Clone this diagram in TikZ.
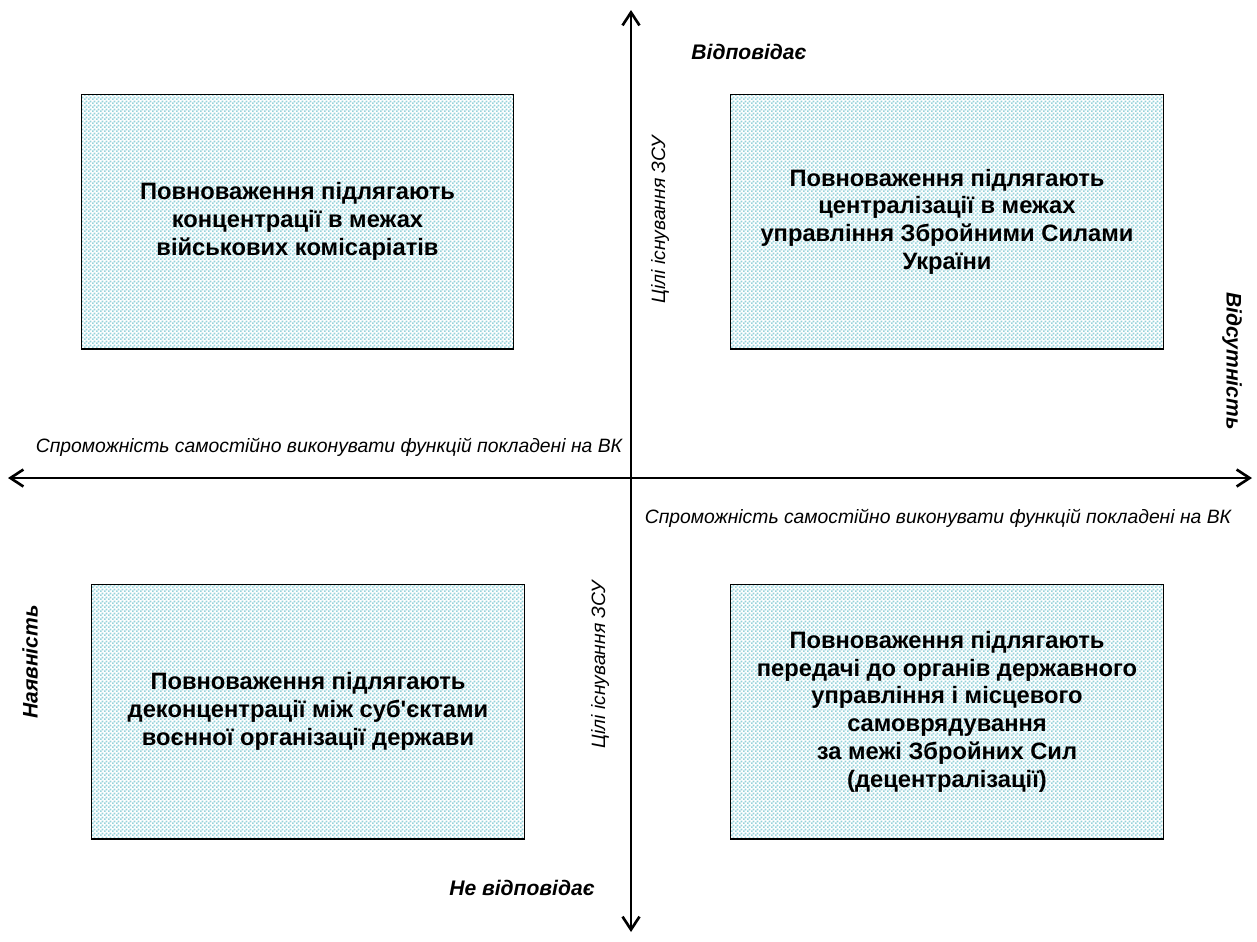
\documentclass[tikz,border=0pt]{standalone}
\usepackage{fontspec}
\setmainfont{Liberation Sans}[Ligatures=TeXOff]
\usetikzlibrary{arrows.meta,patterns.meta}
\usepackage{xcolor}
\definecolor{chk}{RGB}{150,210,218}

\tikzdeclarepattern{
  name=finechecks,
  type=uncolored,
  bottom left={(0pt,0pt)},
  top right={(2.3pt,2.3pt)},
  tile size={(2.3pt,2.3pt)},
  code={
    \fill (0pt,0pt) rectangle (1.15pt,1.15pt);
    \fill (1.15pt,1.15pt) rectangle (2.3pt,2.3pt);
  }
}

\begin{document}
\begin{tikzpicture}[x=0.02cm,y=-0.02cm]
	\tikzset{
		quad/.style={%
           	draw,
	         line width=0.6pt,
              pattern=finechecks,
              pattern color=chk,
             minimum width=8.66cm,
             minimum height=5.1cm,
             align=center,
             font=\bfseries\fontsize{13.5}{15.8}\selectfont},
		note/.style={font=\itshape\fontsize{11}{13}\selectfont},
		pole/.style={font=\bfseries\itshape\fontsize{12}{14}\selectfont}
       }


       \tikzstyle{axis_style} = [draw=black, line width=1.5pt, {Straight Barb[length=2.6mm,width=3.4mm]}-{Straight Barb[length=2.6mm,width=3.4mm]}]

	  \useasboundingbox (0,0) rectangle (1257,941);

	  \coordinate (top) at (631,10);
	  \coordinate (bottom) at (631,932);
	  \coordinate (left) at (8,478);
	  \coordinate (right) at (1252,478);

	  \node[quad] (tl) at (297.5,221.5) {Повноваження підлягають\\концентрації в межах\\військових комісаріатів};
	  \node[quad] (tr) at (947,221.5) {Повноваження підлягають\\централізації в межах\\управління Збройними Силами\\України};
	  \node[quad] (bl) at (308,711.5) {Повноваження підлягають\\деконцентрації між суб'єктами\\воєнної організації держави};
	  \node[quad] (br) at (947,711.5) {Повноваження підлягають\\передачі до органів державного\\управління і місцевого\\самоврядування\\за межі Збройних Сил\\(децентралізації)};

	  \draw[axis_style]  (bottom) -- (top);
	  \draw[axis_style]  (left) -- (right);

	  \node[pole] (yes) at (749,52) {Відповідає};
	  \node[pole] (no) at (522,888) {Не відповідає};
	  \node[pole, rotate=-90] (absent) at (1232,361) {Відсутність};
	  \node[pole, rotate=90] (present) at (30,662) {Наявність};

	  \node[note] (capl) at (329,447) {Спроможність самостійно виконувати функцій покладені на ВК};
	  \node[note] (capr) at (938,518) {Спроможність самостійно виконувати функцій покладені на ВК};
	  \node[note, rotate=90] (goalt) at (660,220) {Цілі існування ЗСУ};
	  \node[note, rotate=90] (goalb) at (600,665) {Цілі існування ЗСУ};

\end{tikzpicture}
\end{document}
